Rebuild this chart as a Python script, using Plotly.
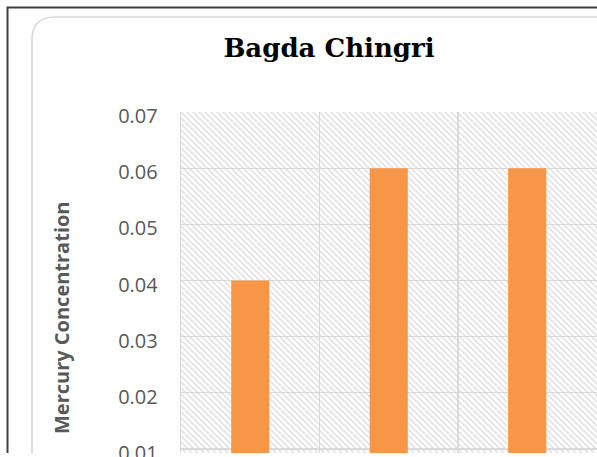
import base64
import plotly.graph_objects as go

# ---- data ----
categories = ["Sample 1", "Sample 2", "Sample 3"]
mercury = [0.04, 0.06, 0.06]
y_ticks = [0.01, 0.02, 0.03, 0.04, 0.05, 0.06, 0.07]
y_tick_labels = ["0.01", "0.02", "0.03", "0.04", "0.05", "0.06", "0.07"]
title_text = "Bagda Chingri"
y_title = "Mercury Concentration"

# ---- geometry (pixels) ----
FW, FH = 597, 457
L, R, T, B = 181, 597, 112, 453
PW, PH = R - L, B - T


def px(x):
    return (x - L) / PW


def py(y):
    return (B - y) / PH


# hatched plot background as svg pattern
svg = (
    f'<svg xmlns="http://www.w3.org/2000/svg" width="{PW}" height="{PH}">'
    '<defs><pattern id="h" width="6" height="6" patternUnits="userSpaceOnUse">'
    '<rect width="6" height="6" fill="#ffffff"/>'
    '<path d="M-1,-1 L7,7 M-1,5 L1,7 M5,-1 L7,1" stroke="#e0e0e0" stroke-width="1.5"/>'
    '</pattern></defs>'
    f'<rect width="{PW}" height="{PH}" fill="url(#h)"/></svg>'
)
svg_uri = "data:image/svg+xml;base64," + base64.b64encode(svg.encode()).decode()

fig = go.Figure()
fig.add_trace(go.Bar(
    x=categories, y=mercury, marker=dict(color="#F79646", line=dict(width=0)),
    width=0.275, showlegend=False, hoverinfo="skip",
))

grid = "#d9d9d9"
r = 23
inner = (f"M {px(32)},{py(B)} L {px(32)},{py(17 + r)} "
         f"Q {px(32)},{py(17)} {px(32 + r)},{py(17)} L {px(605)},{py(17)}")
outer = (f"M {px(7.5)},{py(B)} L {px(7.5)},{py(7.5)} L {px(605)},{py(7.5)}")

fig.update_layout(
    width=FW, height=FH,
    margin=dict(l=L, r=FW - R, t=T, b=FH - B, autoexpand=False),
    paper_bgcolor="white", plot_bgcolor="rgba(0,0,0,0)",
    bargap=0.725,
    title=dict(text=f"<b>{title_text}</b>", x=px(329), xref="paper", xanchor="center",
               y=1 - 48 / FH, yref="container", yanchor="middle",
               font=dict(family="DejaVu Serif", size=26, color="black")),
    xaxis=dict(range=[-0.5, 2.504], showticklabels=False, tickson="boundaries",
               showgrid=True, gridcolor=grid, gridwidth=1.3, ticks="",
               zeroline=False, fixedrange=True),
    yaxis=dict(range=[0.00929, 0.07], tickvals=y_ticks, ticktext=y_tick_labels,
               showgrid=True, gridcolor=grid, gridwidth=1.3, zeroline=False,
               showline=True, linecolor=grid, linewidth=1.3, ticks="",
               ticklabelstandoff=18, ticklabelshift=4, ticklabeloverflow="allow",
               tickfont=dict(family="Open Sans", size=20, color="#595959")),
    images=[dict(source=svg_uri, xref="paper", yref="paper", x=0, y=1,
                 sizex=1, sizey=1, sizing="stretch", layer="below",
                 xanchor="left", yanchor="top")],
    shapes=[
        dict(type="path", path=inner, xref="paper", yref="paper",
             line=dict(color="#d9d9d9", width=1.7)),
        dict(type="path", path=outer, xref="paper", yref="paper",
             line=dict(color="#404040", width=2)),
    ],
    annotations=[dict(text=f"<b>{y_title}</b>", textangle=-90, showarrow=False,
                      xref="paper", yref="paper", x=px(61), y=py(318),
                      xanchor="center", yanchor="middle",
                      font=dict(family="Open Sans", size=20, color="#595959"))],
)

fig.write_html("out.html", config={"displayModeBar": False, "staticPlot": True},
               post_script="document.body.style.margin='0';"
                           "document.body.style.overflow='hidden';")
